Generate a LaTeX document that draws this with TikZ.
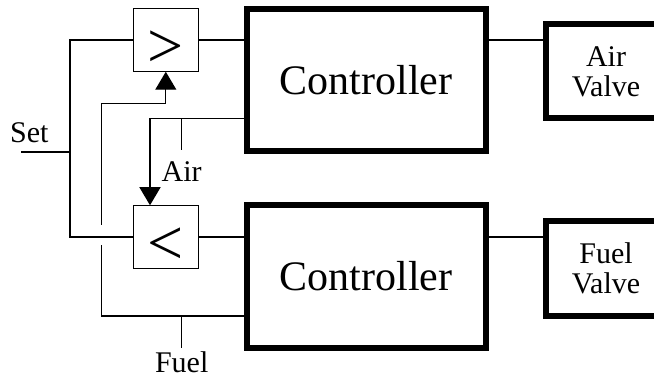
\documentclass[tikz,border=0pt]{standalone}
\usepackage{fontspec}
\setmainfont{Liberation Serif}
\usetikzlibrary{arrows.meta, positioning, calc}

\begin{document}
\begin{tikzpicture}[
    x=1pt, y=-1pt,
    >={Triangle[length=18pt, width=21pt]},
    % Controller Block Style
    ctrl/.style={draw=black, rectangle, line width=6pt, outer sep=0pt, minimum width=239pt, minimum height=142pt, font=\fontsize{42}{42}\selectfont},
    % Valve Block Style
    valve/.style={draw=black, rectangle, line width=6pt, outer sep=0pt, minimum width=120pt, minimum height=94pt, align=center, font=\fontsize{30}{30}\selectfont},
    % Selector Style (high / low select)
    selector/.style={draw=black, rectangle, line width=1.3pt, outer sep=0pt, inner sep=0pt, minimum width=65pt, minimum height=63.5pt, text height=56pt, text depth=0pt, font=\fontsize{64}{64}\selectfont},
    % Signal Line Style
    wire/.style={line width=1.3pt},
    % Free Label Style
    tag/.style={inner sep=0pt, font=\fontsize{30}{30}\selectfont}
]

\useasboundingbox (0,0) rectangle (654,377);
\clip (0,0) rectangle (654,377);

% ================= Nodes =================

% 1. Controllers
\node[ctrl] (ctrlAir) at (366,80) {Controller};
\node[ctrl] (ctrlFuel) at (366,276.5) {Controller};

% 2. Selectors
\node[selector] (high) at (165.8,40) {>};
\node[selector] (low) at (165.8,237) {<};

% 3. Valves (right side runs off the page)
\node[valve] (valveAir) at (606,71.5) {Air\\Valve};
\node[valve, minimum height=94.5pt] (valveFuel) at (606,268.25) {Fuel\\Valve};

% 4. Bends, taps and free ends
\coordinate (setIn) at (21,152);
\coordinate (setBus) at (70,237);
\coordinate (airBend) at (150,118.3);
\coordinate (airTap) at (181.7,118.3);
\coordinate (airEnd) at (181.7,150);
\coordinate (fuelBend) at (101.7,316);
\coordinate (fuelTap) at (181.7,316);
\coordinate (fuelEnd) at (181.7,348);
\coordinate (fuelTop) at (101.7,103.3);
\coordinate (hopLo) at (101.7,245);
\coordinate (hopHi) at (101.7,225);

% 5. Labels
\node[tag, anchor=base west] (setLbl) at (10,143) {Set};
\node[tag, below=11.5pt of airEnd] (airLbl) {Air};
\node[tag, below=3pt of fuelEnd] (fuelLbl) {Fuel};

% ================= Connections =================

% Set point to both selectors
\draw[wire] (setIn) -- (setIn -| setBus);
\draw[wire] (high.west) -| (setBus) -- (low.west);

% Selectors to controllers
\draw[wire] (high.east) -- (high.east -| ctrlAir.west);
\draw[wire] (low.east) -- (low.east -| ctrlFuel.west);

% Controllers to valves
\draw[wire] (ctrlAir.east |- high) -- (valveAir.west |- high);
\draw[wire] (ctrlFuel.east |- low) -- (valveFuel.west |- low);

% Air flow to low selector
\draw[wire, ->] (airBend -| ctrlAir.west) -- (airBend) -- (airBend |- low.north);
\draw[wire] (airTap) -- (airEnd);

% Fuel flow to high selector (gap where it crosses the set line)
\draw[wire] (fuelBend -| ctrlFuel.west) -- (fuelBend) -- (hopLo);
\draw[wire, ->] (hopHi) -- (fuelTop) -| (high.south);
\draw[wire] (fuelTap) -- (fuelEnd);

\end{tikzpicture}
\end{document}
